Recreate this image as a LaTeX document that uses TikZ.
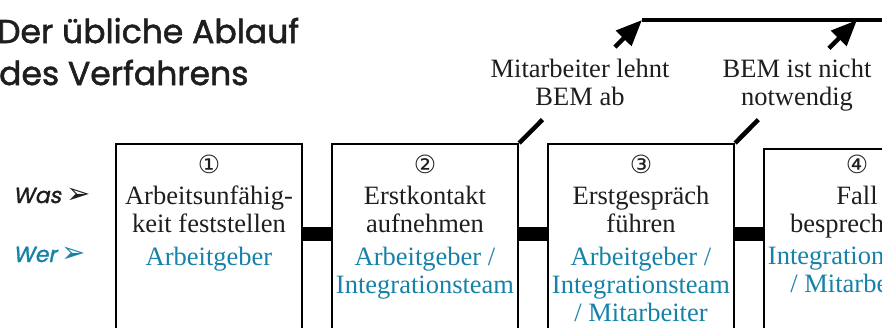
\documentclass[tikz,border=0pt]{standalone}
\usepackage{fontspec}
\setmainfont{Liberation Serif}
\newfontfamily\titlefont[FakeBold=1.6]{Poppins}
\newfontfamily\slantfont[FakeSlant=0.2,FakeBold=1.4]{Poppins}
\newfontfamily\symfont{DejaVu Sans}
\usepackage{tikz}
\usetikzlibrary{calc,arrows.meta,positioning}
\definecolor{bemBlue}{RGB}{22,130,168}
\definecolor{bemBlack}{RGB}{30,30,30}

\begin{document}
\begin{tikzpicture}[x=1pt,y=-1pt,
    stepbox/.style={draw=black, line width=2.2pt, minimum width=186pt,
        minimum height=200pt, anchor=north west, inner sep=0pt},
    bar/.style={line width=14pt},
    jump/.style={line width=4.5pt},
    jumptip/.style={jump, -{Triangle[length=26pt,width=21pt]}},
    boxnum/.style={font=\symfont\fontsize{25}{25}\selectfont, text=bemBlack, inner sep=0pt},
    what/.style={font=\fontsize{26.5}{28}\selectfont, text=bemBlack, align=center,
        anchor=north, inner sep=0pt},
    who/.style={what, text=bemBlue},
    headline/.style={font=\titlefont\fontsize{33}{33}\selectfont, text=bemBlack,
        anchor=base west, inner sep=0pt},
    side/.style={font=\slantfont\fontsize{22}{22}\selectfont, anchor=base west, inner sep=0pt}]
    \useasboundingbox (0,0) rectangle (882,327);
    \clip (0,0) rectangle (882,327);

    % title
    \node[headline] (title1) at (-3,43) {Der übliche Ablauf};
    \node[headline] (title2) at (-1,85) {des Verfahrens};

    % row labels
    \node[side, text=bemBlack] (was) at (13,203) {Was\hspace{5pt}{\symfont\fontsize{29}{29}\selectfont ➢}};
    \node[side, text=bemBlue] (wer) at (13,262) {Wer\hspace{5pt}{\symfont\fontsize{29}{29}\selectfont ➢}};

    % the steps
    \node[stepbox] (b1) at (115,143) {};
    \node[stepbox] (b2) at (331,143) {};
    \node[stepbox] (b3) at (547,143) {};
    \node[stepbox] (b4) at (763,148) {};

    \node[boxnum] (n1) at (209,164) {①};
    \node[what] (w1) at (209,186) {Arbeitsunfähig-\\keit feststellen};
    \node[who] (p1) at (209,247) {Arbeitgeber};

    \node[boxnum] (n2) at (425,164) {②};
    \node[what] (w2) at (425,186) {Erstkontakt\\aufnehmen};
    \node[who] (p2) at (425,247) {Arbeitgeber /\\Integrationsteam};

    \node[boxnum] (n3) at (641,164) {③};
    \node[what] (w3) at (641,186) {Erstgespräch\\führen};
    \node[who] (p3) at (641,247) {Arbeitgeber /\\Integrationsteam\\/ Mitarbeiter};

    \node[boxnum] (n4) at (857,164) {④};
    \node[what] (w4) at (857,186) {Fall\\besprechung};
    \node[who] (p4) at (857,247) {Integrationsteam\\/ Mitarbeiter};

    % bars between the steps
    \draw[bar] ([yshift=-91pt]b1.north east) -- ([yshift=-91pt]b1.north east -| b2.west);
    \draw[bar] ([yshift=-91pt]b2.north east) -- ([yshift=-91pt]b2.north east -| b3.west);
    \draw[bar] ([yshift=-91pt]b3.north east) -- ([yshift=-91pt]b3.north east -| b4.west);

    % leaving the procedure
    \node[what] (exit1) at (580,59) {Mitarbeiter lehnt\\BEM ab};
    \node[what] (exit2) at (797,59) {BEM ist nicht\\notwendig};
    \coordinate (tip1) at (642,20);
    \coordinate (tip2) at (857,20);
    \coordinate (topend) at (890,20);
    \draw[jump] (b2.north east) -- ($(b2.north east)!0.19!(tip1)$);
    \draw[jumptip] ($(b2.north east)!0.78!(tip1)$) -- (tip1);
    \draw[jump] (b3.north east) -- ($(b3.north east)!0.19!(tip2)$);
    \draw[jumptip] ($(b3.north east)!0.77!(tip2)$) -- (tip2);
    \draw[jump] (tip1) -- (topend);
\end{tikzpicture}
\end{document}
